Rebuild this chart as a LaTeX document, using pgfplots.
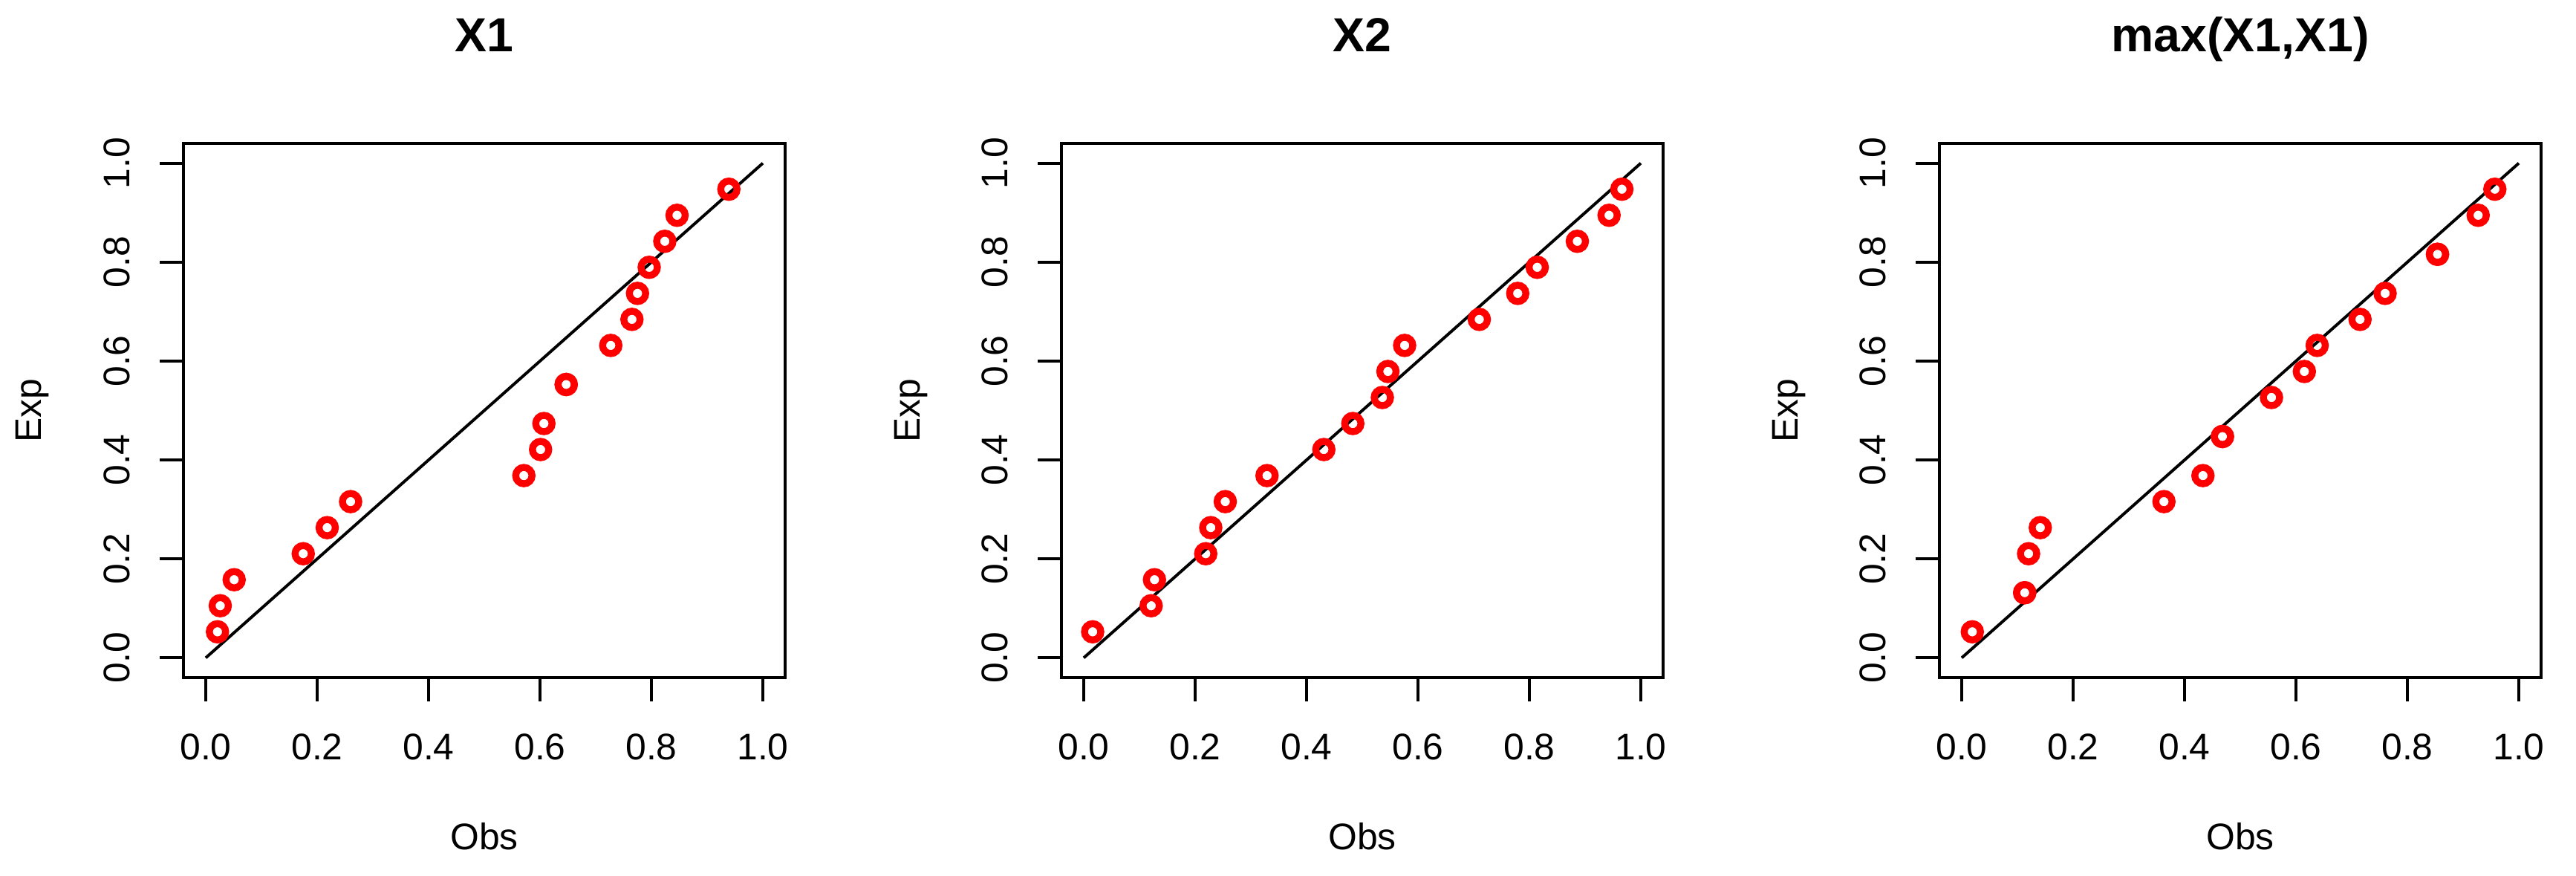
\documentclass[border=0pt]{standalone}
\usepackage{fontspec}
\setmainfont{Liberation Sans}
\usepackage{pgfplots}
\usepackage{pgfplotstable}
\pgfplotsset{compat=1.18}
\definecolor{rred}{RGB}{255,0,0}

\pgfplotstableread{
x y
0.021 0.0526
0.026 0.1053
0.051 0.1579
0.175 0.2105
0.218 0.2632
0.260 0.3158
0.571 0.3684
0.601 0.4211
0.607 0.4737
0.647 0.5526
0.647 0.5526
0.727 0.6316
0.765 0.6842
0.775 0.7368
0.796 0.7895
0.824 0.8421
0.846 0.8947
0.939 0.9474
}\dataA

\pgfplotstableread{
x y
0.016 0.0526
0.121 0.1053
0.127 0.1579
0.219 0.2105
0.228 0.2632
0.254 0.3158
0.329 0.3684
0.431 0.4211
0.483 0.4737
0.536 0.5263
0.546 0.5789
0.576 0.6316
0.710 0.6842
0.779 0.7368
0.814 0.7895
0.886 0.8421
0.943 0.8947
0.966 0.9474
}\dataB

\pgfplotstableread{
x y
0.019 0.0526
0.113 0.1316
0.113 0.1316
0.120 0.2105
0.141 0.2632
0.363 0.3158
0.433 0.3684
0.468 0.4474
0.468 0.4474
0.556 0.5263
0.615 0.5789
0.638 0.6316
0.715 0.6842
0.760 0.7368
0.854 0.8158
0.854 0.8158
0.927 0.8947
0.957 0.9474
}\dataC

\pgfplotsset{
  rqq/.style={
    scale only axis,
    width=194.4bp, height=172.56bp,
    xmin=-0.04, xmax=1.04, ymin=-0.04, ymax=1.04,
    axis line style={line width=0.95bp},
    every tick/.style={black, line width=0.95bp},
    tick align=outside,
    major tick length=7.6bp,
    xtick pos=left, ytick pos=left,
    xtick={0,0.2,0.4,0.6,0.8,1},
    xticklabels={0.0,0.2,0.4,0.6,0.8,1.0},
    ytick={0,0.2,0.4,0.6,0.8,1},
    yticklabels={0.0,0.2,0.4,0.6,0.8,1.0},
    xticklabel style={font=\fontsize{12}{14}\selectfont, anchor=north, inner sep=0pt},
    yticklabel style={font=\fontsize{12}{14}\selectfont, rotate=90, anchor=south, inner sep=0pt},
    xticklabel shift=10.4bp,
    yticklabel shift=9.4bp,
    xlabel={Obs}, ylabel={Exp},
    xlabel style={at={(axis description cs:0.5,0)}, anchor=base, yshift=-55.44bp,
      inner sep=0pt, font=\fontsize{12}{14}\selectfont},
    ylabel style={at={([xshift=-45.84bp]axis description cs:0,0.5)}, rotate=0, anchor=base,
      inner sep=0pt, font=\fontsize{12}{14}\selectfont},
    title style={at={(axis description cs:0.5,1)}, anchor=base, yshift=23.76bp,
      inner sep=0pt, font=\bfseries\fontsize{15.5}{18}\selectfont},
  },
  rpts/.style={only marks, mark=o, mark size=2.64bp, color=rred,
    mark options={line width=2.25bp}},
  rline/.style={black, line width=0.95bp, no marks},
}

\begin{document}
\begin{tikzpicture}
\useasboundingbox (0,0) rectangle (832.32bp,282.96bp);

\begin{axis}[rqq, at={(59.28bp,64.08bp)}, anchor=south west, title={X1}]
  \addplot[rpts] table[x=x,y=y] {\dataA};
  \addplot[rline] coordinates {(0,0) (1,1)};
\end{axis}

\begin{axis}[rqq, at={(342.96bp,64.08bp)}, anchor=south west, title={X2}]
  \addplot[rpts] table[x=x,y=y] {\dataB};
  \addplot[rline] coordinates {(0,0) (1,1)};
\end{axis}

\begin{axis}[rqq, at={(626.64bp,64.08bp)}, anchor=south west, title={max(X1,X1)}]
  \addplot[rpts] table[x=x,y=y] {\dataC};
  \addplot[rline] coordinates {(0,0) (1,1)};
\end{axis}
\end{tikzpicture}
\end{document}
